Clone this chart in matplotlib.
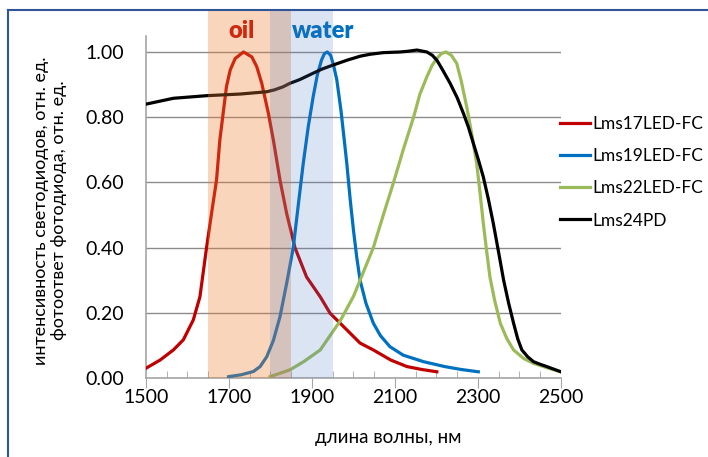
import matplotlib
matplotlib.use("Agg")
import matplotlib.pyplot as plt
from matplotlib.lines import Line2D
from matplotlib.ticker import MultipleLocator

plt.rcParams['font.family'] = ['Lato', 'Open Sans', 'DejaVu Sans']

# спектры (длина волны, нм / отн. ед.)
wl17 = [1500, 1534, 1566, 1590, 1614, 1630, 1646, 1658, 1670, 1678, 1686, 1694, 1703, 1715, 1735,
        1755, 1767, 1779, 1795, 1807, 1823, 1839, 1859, 1887, 1920, 1944, 1968, 2016, 2048, 2090, 2129, 2165, 2201]
v17 = [0.030, 0.055, 0.086, 0.117, 0.178, 0.249, 0.40, 0.505, 0.607, 0.73, 0.812, 0.894, 0.945, 0.98, 1.0,
       0.985, 0.955, 0.904, 0.812, 0.73, 0.607, 0.505, 0.40, 0.31, 0.249, 0.198, 0.168, 0.107, 0.086, 0.055, 0.035, 0.026, 0.019]

wl19 = [1699, 1730, 1759, 1775, 1791, 1807, 1823, 1839, 1855, 1867, 1879, 1891, 1903, 1913, 1923, 1930, 1937,
        1945, 1952, 1960, 1970, 1977, 1984, 1992, 2000, 2008, 2016, 2030, 2048, 2065, 2088, 2120, 2169, 2220, 2260, 2301]
v19 = [0.004, 0.010, 0.020, 0.035, 0.065, 0.115, 0.188, 0.29, 0.40, 0.53, 0.658, 0.77, 0.863, 0.93, 0.975, 0.995, 1.0,
       0.99, 0.96, 0.914, 0.82, 0.74, 0.658, 0.55, 0.454, 0.37, 0.30, 0.23, 0.168, 0.13, 0.096, 0.07, 0.050, 0.035, 0.026, 0.019]

wl22 = [1799, 1847, 1880, 1920, 1968, 2000, 2016, 2048, 2072, 2096, 2120, 2145, 2160, 2177, 2190, 2201, 2212, 2223,
        2236, 2249, 2260, 2273, 2285, 2297, 2305, 2313, 2321, 2329, 2340, 2354, 2370, 2386, 2410, 2434, 2470, 2500]
v22 = [0.004, 0.025, 0.05, 0.086, 0.175, 0.25, 0.30, 0.40, 0.50, 0.597, 0.70, 0.80, 0.87, 0.924, 0.96, 0.98, 0.995, 1.0,
       0.99, 0.965, 0.91, 0.832, 0.75, 0.658, 0.57, 0.475, 0.39, 0.31, 0.24, 0.168, 0.12, 0.086, 0.06, 0.045, 0.03, 0.019]

wl24 = [1500, 1566, 1646, 1727, 1791, 1810, 1830, 1847, 1870, 1903, 1925, 1951, 1985, 2016, 2040, 2072, 2112, 2130,
        2153, 2177, 2190, 2201, 2215, 2233, 2250, 2265, 2277, 2289, 2301, 2313, 2325, 2337, 2350, 2362, 2374, 2386,
        2396, 2406, 2420, 2434, 2450, 2466, 2483, 2500]
v24 = [0.84, 0.858, 0.866, 0.871, 0.878, 0.884, 0.893, 0.904, 0.915, 0.935, 0.948, 0.96, 0.975, 0.987, 0.993, 0.998, 1.0, 1.002,
       1.006, 1.0, 0.99, 0.975, 0.945, 0.904, 0.86, 0.812, 0.77, 0.72, 0.67, 0.617, 0.55, 0.475, 0.385, 0.30, 0.23, 0.168,
       0.12, 0.086, 0.065, 0.05, 0.042, 0.035, 0.027, 0.019]

oil_band = (1650, 1850)
water_band = (1800, 1950)
xticks = [1500, 1700, 1900, 2100, 2300, 2500]
yticks = [0, 0.2, 0.4, 0.6, 0.8, 1.0]

fig = plt.figure(figsize=(7.08, 4.57), dpi=100)
ax = fig.add_axes([0.2062, 0.1729, 0.586, 0.749])

ax.plot(wl17, v17, color='#C00000', lw=2.3, label='Lms17LED-FC', zorder=3)
ax.plot(wl19, v19, color='#0070C0', lw=2.3, label='Lms19LED-FC', zorder=3)
ax.plot(wl22, v22, color='#9BBB59', lw=2.3, label='Lms22LED-FC', zorder=3)
ax.plot(wl24, v24, color='black', lw=2.3, label='Lms24PD', zorder=3)

# полосы поглощения нефти и воды (поверх линий, полупрозрачные)
ax.axvspan(*oil_band, ymin=0, ymax=1.072, color='#ED7D31', alpha=0.32, lw=0, zorder=4, clip_on=False)
ax.axvspan(*water_band, ymin=0, ymax=1.072, color='#4472C4', alpha=0.19, lw=0, zorder=4, clip_on=False)

ax.text(1731, 1.065, 'oil', color='#C00000', fontsize=17, fontweight='heavy', ha='center', va='center', clip_on=False)
ax.text(1927, 1.065, 'water', color='#0070C0', fontsize=17, fontweight='heavy', ha='center', va='center', clip_on=False)

ax.set_xlim(1500, 2500)
ax.set_ylim(0, 1.05)
ax.set_xticks(xticks)
ax.xaxis.set_minor_locator(MultipleLocator(50))
ax.set_yticks(yticks)
ax.set_yticklabels(['%.2f' % t for t in yticks])
ax.grid(axis='y', color='#8C8C8C', lw=1)
ax.set_axisbelow(True)

for s in ['top', 'right']:
    ax.spines[s].set_visible(False)
for s in ['left', 'bottom']:
    ax.spines[s].set_color('#A6A6A6')
    ax.spines[s].set_linewidth(1.2)

ax.tick_params(axis='x', which='major', direction='out', length=7, color='#A6A6A6', labelsize=14, pad=1)
ax.tick_params(axis='x', which='minor', direction='in', length=5, color='#A6A6A6')
ax.tick_params(axis='y', length=0, labelsize=14, pad=16)

ax.set_xlabel('длина волны, нм', fontsize=13.5, va='top')
ax.xaxis.set_label_coords(0.584, -0.148)
ax.set_ylabel('интенсивность светодиодов, отн. ед.\nфотоответ фотодиода, отн. ед.', fontsize=13, linespacing=1.2)
ax.yaxis.set_label_coords(-0.19, 0.49)

ax.legend(loc='upper left', bbox_to_anchor=(0.791, 0.746), bbox_transform=fig.transFigure,
          frameon=False, fontsize=12.5, handlelength=1.72, handletextpad=0.14, labelspacing=0.93,
          borderpad=0, borderaxespad=0)

# рамка слайда
fig.add_artist(Line2D([0.0106, 0.0106], [0, 0.978], color='#2F5597', lw=1.5, transform=fig.transFigure))
fig.add_artist(Line2D([0.0106, 1.0], [0.978, 0.978], color='#2F5597', lw=1.5, transform=fig.transFigure))

fig.savefig('out.png', dpi=100)
